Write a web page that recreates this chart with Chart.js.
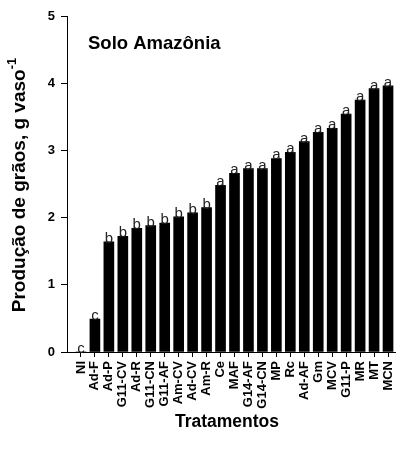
<!DOCTYPE html>
<html>
<head>
<meta charset="utf-8">
<script src="https://cdn.jsdelivr.net/npm/chart.js@4.4.0/dist/chart.umd.min.js"></script>
<style>
  html, body { margin: 0; padding: 0; background: #fff; }
</style>
</head>
<body>
<canvas id="graos" width="398" height="453"></canvas>
<script>
const treatments = ["NI", "Ad-F", "Ad-P", "G11-CV", "Ad-R", "G11-CN", "G11-AF", "Am-CV", "Ad-CV", "Am-R",
    "Ce", "MAF", "G14-AF", "G14-CN", "MP", "Rc", "Ad-AF", "Gm", "MCV", "G11-P", "MR", "MT", "MCN"];
const production = [0, 0.49, 1.64, 1.72, 1.84, 1.88, 1.92, 2.01, 2.07, 2.15,
    2.48, 2.66, 2.73, 2.73, 2.88, 2.97, 3.13, 3.27, 3.33, 3.54, 3.75, 3.92, 3.96];
const letters = ["c", "c", "b", "b", "b", "b", "b", "b", "b", "b",
    "a", "a", "a", "a", "a", "a", "a", "a", "a", "a", "a", "a", "a"];
const yTicks = [0, 1, 2, 3, 4, 5];

const FONT = "'Liberation Sans', Arial, sans-serif";

// letters over bars + titles
const extras = {
    id: 'extras',
    afterDatasetsDraw(chart) {
        const ctx = chart.ctx;
        const meta = chart.getDatasetMeta(0);
        ctx.save();
        ctx.fillStyle = '#222';
        ctx.font = '15px ' + FONT;
        ctx.textAlign = 'center';
        ctx.textBaseline = 'alphabetic';
        meta.data.forEach((bar, i) => {
            ctx.fillText(letters[i], bar.x, bar.y + 1);
        });

        const area = chart.chartArea;
        ctx.fillStyle = '#000';
        ctx.font = 'bold 18.5px ' + FONT;
        ctx.textAlign = 'left';
        ctx.textBaseline = 'middle';
        ctx.fillText('Solo Amazônia', area.left + 21, 44);

        ctx.font = 'bold 17.5px ' + FONT;
        ctx.textAlign = 'center';
        ctx.fillText('Tratamentos', (area.left + area.right) / 2 - 4, 422);

        // y title, rotated, with superscript
        const main = 'Produção de grãos, g vaso';
        const sup = '-1';
        ctx.font = 'bold 19px ' + FONT;
        const w1 = ctx.measureText(main).width;
        ctx.font = 'bold 13px ' + FONT;
        const w2 = ctx.measureText(sup).width;
        ctx.translate(20, 185);
        ctx.rotate(-Math.PI / 2);
        const start = -(w1 + w2) / 2;
        ctx.textAlign = 'left';
        ctx.font = 'bold 19px ' + FONT;
        ctx.fillText(main, start, 0);
        ctx.font = 'bold 13px ' + FONT;
        ctx.fillText(sup, start + w1, -8);
        ctx.restore();
    }
};

new Chart(document.getElementById('graos').getContext('2d'), {
    type: 'bar',
    data: {
        datasets: [{
            data: production.map((v, i) => ({ x: i, y: v })),
            backgroundColor: '#000',
            borderWidth: 0,
            barThickness: 10
        }]
    },
    options: {
        responsive: false,
        devicePixelRatio: 1,
        animation: false,
        layout: { padding: { top: 16, right: 3, left: 0, bottom: 0 } },
        plugins: {
            legend: { display: false },
            tooltip: { enabled: false }
        },
        scales: {
            x: {
                type: 'linear',
                min: -1,
                max: 22.5,
                offset: false,
                afterBuildTicks: (scale) => {
                    scale.ticks = treatments.map((_, i) => ({ value: i }));
                },
                afterFit: (scale) => {
                    scale.height = 101;
                    scale.paddingLeft = 0;
                    scale.paddingRight = 0;
                },
                grid: {
                    offset: false,
                    drawOnChartArea: false,
                    tickLength: 5,
                    color: '#000'
                },
                border: { color: '#000', width: 1 },
                ticks: {
                    autoSkip: false,
                    maxRotation: 90,
                    minRotation: 90,
                    padding: 4,
                    color: '#000',
                    font: { family: FONT, size: 13, weight: 'bold' },
                    callback: (v) => treatments[v] ?? ''
                }
            },
            y: {
                min: 0,
                max: 5,
                afterBuildTicks: (scale) => {
                    scale.ticks = yTicks.map(v => ({ value: v }));
                },
                afterFit: (scale) => {
                    scale.width = 67;
                    scale.paddingTop = 0;
                    scale.paddingBottom = 0;
                },
                grid: {
                    drawOnChartArea: false,
                    tickLength: 6,
                    color: '#000'
                },
                border: { color: '#000', width: 1 },
                ticks: {
                    padding: 6,
                    color: '#000',
                    font: { family: FONT, size: 13, weight: 'bold' }
                }
            }
        }
    },
    plugins: [extras]
});
</script>
</body>
</html>
